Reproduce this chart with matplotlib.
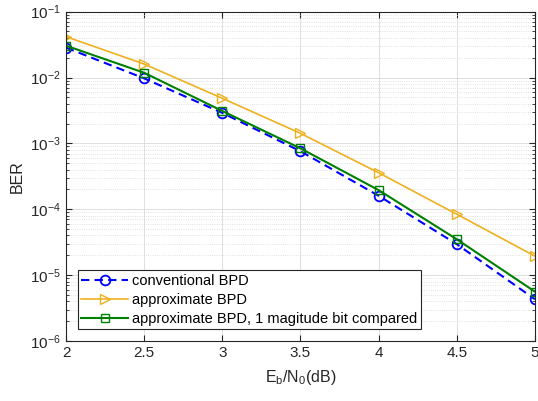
import matplotlib
matplotlib.use('Agg')
import matplotlib.pyplot as plt
from matplotlib.ticker import LogLocator, NullFormatter

plt.rcParams['font.family'] = ['Liberation Sans', 'DejaVu Sans']
plt.rcParams['mathtext.fontset'] = 'custom'
plt.rcParams['mathtext.rm'] = 'Liberation Sans'

ebn0 = [2, 2.5, 3, 3.5, 4, 4.5, 5]
ber_conv = [0.0284, 0.0097, 0.0029, 7.6e-4, 1.6e-4, 2.95e-5, 4.3e-6]
ber_approx = [0.0417, 0.016, 0.00483, 1.42e-3, 3.58e-4, 8.4e-5, 1.94e-5]
ber_approx1 = [0.0304, 0.0118, 0.0031, 8.4e-4, 1.95e-4, 3.5e-5, 5.6e-6]

dark = (0.15, 0.15, 0.15)
orange = (0.929, 0.694, 0.125)
green = (0, 0.5, 0)

fig = plt.figure(figsize=(5.38, 4.01), dpi=100)
ax = fig.add_axes([0.1227, 0.1496, 0.8717, 0.8214])

ax.semilogy(ebn0, ber_conv, 'o', ls=(0, (4, 2.5)), color='b', mfc='none', ms=7, mew=1.3,
            lw=1.5, label='conventional BPD')
ax.semilogy(ebn0, ber_approx, '>-', color=orange, mfc='none', ms=7, mew=1.0, lw=1.2,
            label='approximate BPD')
ax.semilogy(ebn0, ber_approx1, 's-', color=green, mfc='none', ms=6, mew=1.0, lw=1.5,
            label='approximate BPD, 1 magitude bit compared')

ax.set_xlim(2, 5)
ax.set_ylim(1e-6, 1e-1)
ax.set_xticks(ebn0)
ax.set_xticklabels(['2', '2.5', '3', '3.5', '4', '4.5', '5'])
ax.yaxis.set_major_locator(LogLocator(base=10, numticks=10))
ax.yaxis.set_minor_locator(LogLocator(base=10, subs=range(2, 10), numticks=10))
ax.yaxis.set_minor_formatter(NullFormatter())

ax.grid(True, which='major', color=(0.85, 0.85, 0.85), lw=0.6)
ax.grid(True, which='minor', axis='y', color=(0.85, 0.85, 0.85), lw=0.6, ls=':')
ax.set_axisbelow(True)

ax.tick_params(which='both', direction='in', colors=dark, labelsize=11,
               top=True, right=True)
ax.tick_params(which='major', length=4)
ax.tick_params(which='minor', length=2)
for s in ax.spines.values():
    s.set_color(dark)
    s.set_linewidth(0.8)

ax.set_xlabel(r'$\mathregular{E_b/N_0}$(dB)', fontsize=11.5, color=dark, labelpad=6)
ax.set_ylabel('BER', fontsize=11.5, color=dark, labelpad=4)

leg = ax.legend(loc='lower left', bbox_to_anchor=(0.025, 0.035), fontsize=10.5,
                fancybox=False, framealpha=1, edgecolor=dark, borderpad=0.25,
                labelspacing=0.35, handlelength=3.2, handletextpad=0.3,
                borderaxespad=0)
leg.get_frame().set_linewidth(0.8)

fig.savefig('out.png', dpi=100)
